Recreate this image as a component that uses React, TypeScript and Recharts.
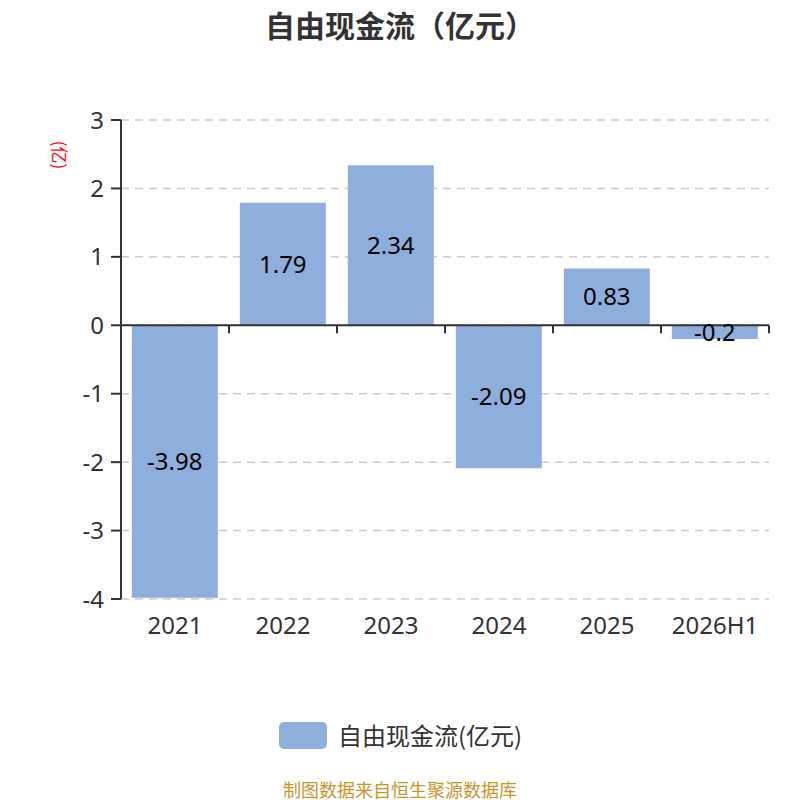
import React from "react";
import { BarChart, Bar, XAxis, YAxis, CartesianGrid, ReferenceLine, LabelList } from "recharts";

const categories = ["2021", "2022", "2023", "2024", "2025", "2026H1"];
const values = [-3.98, 1.79, 2.34, -2.09, 0.83, -0.2];
const yTicks = [-4, -3, -2, -1, 0, 1, 2, 3];

const data = categories.map((c, i) => ({ name: c, value: values[i] }));

const FONT = '"Noto Sans", "Noto Sans CJK SC", sans-serif';
const CJK = '"Noto Sans CJK SC", "Noto Sans", sans-serif';

const ZeroAxis = (p: any) => {
  const { x1, y1, x2, y2 } = p;
  const n = categories.length;
  const ticks = [];
  for (let i = 0; i <= n; i++) {
    const x = x1 + (i * (x2 - x1)) / n;
    ticks.push(<line key={i} x1={x} x2={x} y1={y1} y2={y1 + 8} stroke="#333" strokeWidth={2} />);
  }
  return (
    <g>
      <line x1={x1} y1={y1} x2={x2} y2={y2} stroke="#333" strokeWidth={2} />
      {ticks}
    </g>
  );
};

export default function App() {
  return (
    <div style={{ position: "absolute", left: 0, top: 0, width: 800, height: 800, fontFamily: FONT, background: "#fff" }}>
      <div style={{ position: "absolute", left: 0, top: 4, width: 800, textAlign: "center", fontSize: 30, fontWeight: "bold", color: "#333", lineHeight: "40px", fontFamily: CJK }}>
        自由现金流（亿元）
      </div>
      <div style={{ position: "absolute", left: 36, top: 144, width: 48, height: 22, textAlign: "center", fontSize: 17, color: "red", lineHeight: "22px", transform: "rotate(90deg)", fontFamily: CJK }}>
        (亿)
      </div>
      <BarChart
        width={800}
        height={800}
        data={data}
        margin={{ top: 120, right: 31, bottom: 171, left: 0 }}
        barCategoryGap="10%"
      >
        <CartesianGrid vertical={false} stroke="#ccc" strokeDasharray="8 6" strokeWidth={1.5} />
        <XAxis
          dataKey="name"
          height={30}
          axisLine={false}
          tickLine={false}
          tickSize={0}
          tickMargin={18}
          tick={{ fill: "#333", fontSize: 24, fontFamily: FONT }}
          interval={0}
        />
        <YAxis
          width={121}
          domain={[-4, 3]}
          ticks={yTicks}
          interval={0}
          axisLine={{ stroke: "#333", strokeWidth: 2 }}
          tickLine={{ stroke: "#333", strokeWidth: 2 }}
          tickSize={10}
          tickMargin={7}
          tick={{ fill: "#333", fontSize: 24, fontFamily: FONT }}
        />
        <Bar dataKey="value" fill="#8eaedb" isAnimationActive={false}>
          <LabelList dataKey="value" position="center" fill="#000" fontSize={24} fontFamily={FONT} />
        </Bar>
        <ReferenceLine y={0} shape={ZeroAxis} ifOverflow="visible" />
      </BarChart>
      <div style={{ position: "absolute", left: 279, top: 722, width: 48, height: 27, borderRadius: 5, background: "#8eaedb" }} />
      <div style={{ position: "absolute", left: 338, top: 718, fontSize: 24, color: "#333", lineHeight: "34px", fontFamily: CJK, whiteSpace: "nowrap" }}>
        自由现金流(亿元)
      </div>
      <div style={{ position: "absolute", left: 0, top: 778, width: 800, textAlign: "center", fontSize: 18, color: "#c9962b", lineHeight: "22px", fontFamily: CJK }}>
        制图数据来自恒生聚源数据库
      </div>
    </div>
  );
}
